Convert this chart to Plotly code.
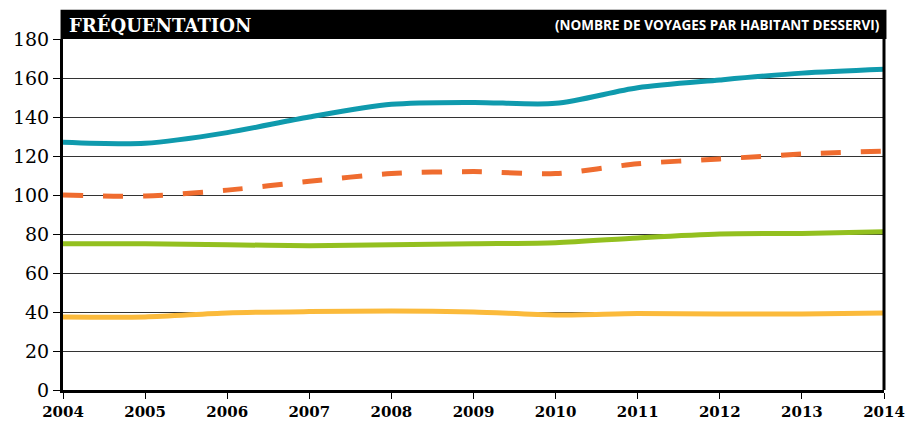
import plotly.graph_objects as go

years = [2004, 2005, 2006, 2007, 2008, 2009, 2010, 2011, 2012, 2013, 2014]
teal = [127, 126.5, 132, 140, 146.5, 147.5, 147, 155, 159, 162.5, 164.5]
orange = [100, 99.5, 102.5, 107, 111, 112, 111, 116, 118.5, 121, 122.5]
green = [75, 75, 74.5, 74, 74.5, 75, 75.5, 78, 80, 80.3, 81.2]
yellow = [37.5, 37.5, 39.5, 40.2, 40.5, 40, 38.5, 39.2, 39, 39, 39.5]
y_ticks = [0, 20, 40, 60, 80, 100, 120, 140, 160, 180]

fig = go.Figure()
series = [
    (yellow, "#fbba3b", "solid"),
    (green, "#93c01f", "solid"),
    (orange, "#ef6c2f", "20px,20px"),
    (teal, "#0f9aad", "solid"),
]
for vals, col, dash in series:
    fig.add_trace(go.Scatter(
        x=years, y=vals, mode="lines",
        line=dict(color=col, width=5, shape="spline", smoothing=0.8, dash=dash),
        showlegend=False, hoverinfo="skip", cliponaxis=False,
    ))

fig.update_layout(
    width=918, height=421,
    margin=dict(l=63, r=34, t=39, b=31),
    paper_bgcolor="white", plot_bgcolor="white",
    xaxis=dict(
        range=[2004, 2014], tickvals=years, ticktext=[str(y) for y in years],
        showgrid=False, zeroline=False, automargin=False,
        showline=True, linecolor="black", linewidth=3,
        ticks="outside", ticklen=6, tickcolor="black", tickwidth=1,
        tickfont=dict(family="DejaVu Serif", size=15, color="black", weight="bold"),
    ),
    yaxis=dict(
        range=[0, 180], tickvals=y_ticks,
        showgrid=True, gridcolor="#333333", gridwidth=1, zeroline=False, automargin=False,
        showline=True, linecolor="black", linewidth=3,
        ticks="outside", ticklen=7, tickcolor="black", tickwidth=1,
        tickfont=dict(family="DejaVu Serif", size=19, color="black"),
    ),
    shapes=[
        dict(type="rect", xref="paper", yref="paper", x0=-0.003, x1=1.003,
             y0=1.0, y1=1.083, fillcolor="black", line=dict(width=0), layer="above"),
        dict(type="line", xref="paper", yref="paper", x0=1, x1=1, y0=0, y1=1,
             line=dict(color="black", width=3), layer="above"),
    ],
    annotations=[
        dict(text="<b>FRÉQUENTATION</b>", xref="paper", yref="paper",
             x=0.005, y=1.041, xanchor="left", yanchor="middle", showarrow=False,
             font=dict(family="DejaVu Serif", size=18, color="white")),
        dict(text="<b>(NOMBRE DE VOYAGES PAR HABITANT DESSERVI)</b>", xref="paper", yref="paper",
             x=0.997, y=1.041, xanchor="right", yanchor="middle", showarrow=False,
             font=dict(family="Open Sans", size=13.5, color="white")),
    ],
)

fig.write_html("out.html", config={"displayModeBar": False},
               post_script="document.body.style.margin='0';")
